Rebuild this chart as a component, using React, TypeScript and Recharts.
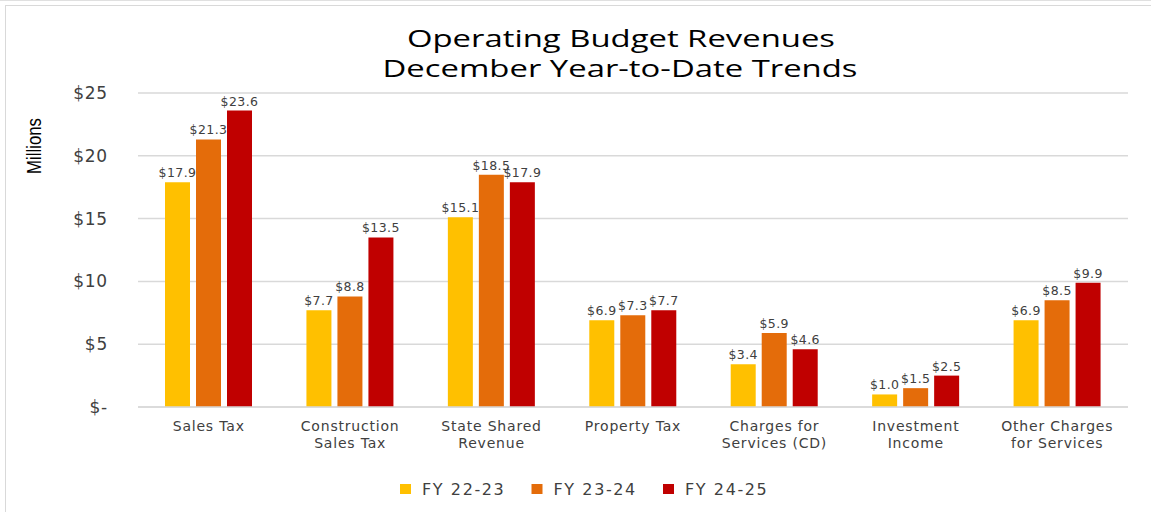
import React from "react";
import { BarChart, Bar, XAxis, YAxis, CartesianGrid, LabelList } from "recharts";

const categories = [
  "Sales Tax",
  "Construction\nSales Tax",
  "State Shared\nRevenue",
  "Property Tax",
  "Charges for\nServices (CD)",
  "Investment\nIncome",
  "Other Charges\nfor Services",
];
const fy2223 = [17.9, 7.7, 15.1, 6.9, 3.4, 1.0, 6.9];
const fy2324 = [21.3, 8.8, 18.5, 7.3, 5.9, 1.5, 8.5];
const fy2425 = [23.6, 13.5, 17.9, 7.7, 4.6, 2.5, 9.9];
const seriesKeys = ["fy2223", "fy2324", "fy2425"];
const seriesNames = ["FY 22-23", "FY 23-24", "FY 24-25"];
const seriesColors = ["#FFC000", "#E46C0A", "#C00000"];
const yTicks = [0, 5, 10, 15, 20, 25];
const titleLines = ["Operating Budget Revenues", "December Year-to-Date Trends"];
const yAxisTitle = "Millions";

const data = categories.map((c, i) => ({
  category: c,
  fy2223: fy2223[i],
  fy2324: fy2324[i],
  fy2425: fy2425[i],
}));

const FONT = "'DejaVu Sans', 'Open Sans', sans-serif";
const TXT = "#404040";

const CategoryTick = (props: any) => {
  const { x, y, payload } = props;
  const lines = String(payload.value).split("\n");
  return (
    <text
      x={x}
      y={y}
      textAnchor="middle"
      fill={TXT}
      fontSize={14}
      fontFamily={FONT}
      letterSpacing={0.8}
    >
      {lines.map((l, i) => (
        <tspan key={i} x={x} dy={i === 0 ? 24 : 17}>
          {l}
        </tspan>
      ))}
    </text>
  );
};

const fmtY = (v: number) => (v === 0 ? "$-" : `$${v}`);
const fmtLabel = (v: any) => `$${Number(v).toFixed(1)}`;

export default function App() {
  return (
    <div style={{ position: "absolute", left: 0, top: 0, width: 1151, height: 512, background: "#fff", overflow: "hidden" }}>
      <BarChart
        width={1151}
        height={512}
        data={data}
        margin={{ top: 93, right: 23, bottom: 45, left: 0 }}
        barSize={25}
        barGap={6}
      >
        <CartesianGrid vertical={false} stroke="#d9d9d9" strokeWidth={1.5} />
        <XAxis
          dataKey="category"
          interval={0}
          height={60}
          axisLine={{ stroke: "#d9d9d9", strokeWidth: 1.5 }}
          tickLine={false}
          tickSize={0}
          tickMargin={0}
          tick={<CategoryTick />}
        />
        <YAxis
          width={138}
          domain={[0, 25]}
          ticks={yTicks}
          axisLine={false}
          tickLine={false}
          tickSize={0}
          tickMargin={30}
          tickFormatter={fmtY}
          tick={{ fill: TXT, fontSize: 17, fontFamily: FONT, letterSpacing: 0.8 } as any}
        />
        {seriesKeys.map((k, i) => (
          <Bar key={k} dataKey={k} name={seriesNames[i]} fill={seriesColors[i]} isAnimationActive={false}>
            <LabelList
              dataKey={k}
              position="top"
              offset={5}
              formatter={fmtLabel}
              style={{ fill: TXT, fontSize: 12.5, fontFamily: FONT, letterSpacing: 0.4 }}
            />
          </Bar>
        ))}
      </BarChart>
      <svg
        width={1151}
        height={512}
        style={{ position: "absolute", left: 0, top: 0, pointerEvents: "none" }}
      >
        <line x1={0} y1={0.5} x2={1151} y2={0.5} stroke="#e0e0e0" />
        <rect x={5.5} y={5.5} width={1170} height={530} fill="none" stroke="#d9d9d9" />
        <text x={621} y={47} textAnchor="middle" fontSize={23} fontFamily="'Open Sans', sans-serif" fill="#000" textLength={428} lengthAdjust="spacingAndGlyphs">
          {titleLines[0]}
        </text>
        <text x={620} y={77} textAnchor="middle" fontSize={23} fontFamily="'Open Sans', sans-serif" fill="#000" textLength={475} lengthAdjust="spacingAndGlyphs">
          {titleLines[1]}
        </text>
        <text
          x={0}
          y={0}
          transform="translate(41,146) rotate(-90)"
          textAnchor="middle"
          fontSize={21}
          fontFamily="'Liberation Sans Narrow', 'Liberation Sans', sans-serif"
          fill="#000"
          textLength={56}
          lengthAdjust="spacingAndGlyphs"
        >
          {yAxisTitle}
        </text>
        {seriesNames.map((n, i) => (
          <g key={n}>
            <rect x={400 + i * 131.5} y={484} width={11} height={10} fill={seriesColors[i]} />
            <text x={422 + i * 131.5} y={495} fontSize={16} fontFamily={FONT} fill={TXT} letterSpacing={1.6}>
              {n}
            </text>
          </g>
        ))}
      </svg>
    </div>
  );
}
